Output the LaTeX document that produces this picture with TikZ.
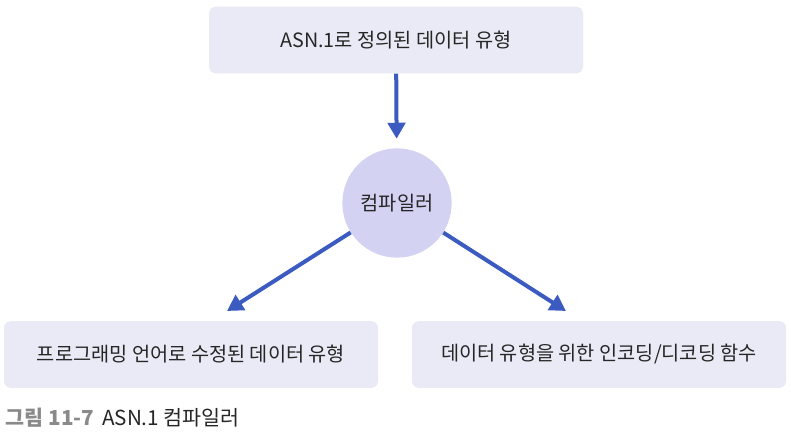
\documentclass[tikz,border=0pt]{standalone}
\usepackage{fontspec}
\setmainfont{Noto Sans CJK KR}
\usetikzlibrary{arrows.meta}
\definecolor{boxfill}{HTML}{EAEAF6}
\definecolor{circfill}{HTML}{D3D2F2}
\definecolor{arrowblue}{HTML}{3B5BC0}
\definecolor{captgray}{HTML}{8A8A8A}
\tikzset{databox/.style={fill=boxfill, rounded corners=5pt, minimum width=280.5pt, minimum height=50pt, font=\fontsize{14.8pt}{17pt}\selectfont, text=black!85}}
\tikzset{flow/.style={arrowblue, line width=3pt, -{Triangle[length=12pt,width=13pt]}}}

\begin{document}
\begin{tikzpicture}[x=0.75pt, y=-0.75pt]
      \useasboundingbox (0, 0) rectangle (791, 436);

      \node [databox] (asn) at (396, 40) {ASN.1로 정의된 데이터 유형};
      \node [circle, fill=circfill, minimum size=82pt, font=\fontsize{14.8pt}{17pt}\selectfont, text=black!85] (comp) at (397, 203) {컴파일러};
      \node [databox] (lang) at (191, 354.5) {프로그래밍 언어로 수정된 데이터 유형};
      \node [databox] (func) at (599, 354.5) {데이터 유형을 위한 인코딩/디코딩 함수};

      \coordinate (ltip) at (227, 311);
      \coordinate (rtip) at (566, 311);

      \draw [flow, shorten >=7pt] (asn) -- (comp);
      \draw [flow] (comp) -- (ltip);
      \draw [flow] (comp) -- (rtip);

      \node [anchor=west, font=\fontsize{15.5pt}{18pt}\selectfont] (cap) at (1, 418) {\textcolor{captgray}{\bfseries 그림 11-7}\hspace{6pt}\textcolor{black!85}{ASN.1 컴파일러}};
    \end{tikzpicture}
\end{document}
